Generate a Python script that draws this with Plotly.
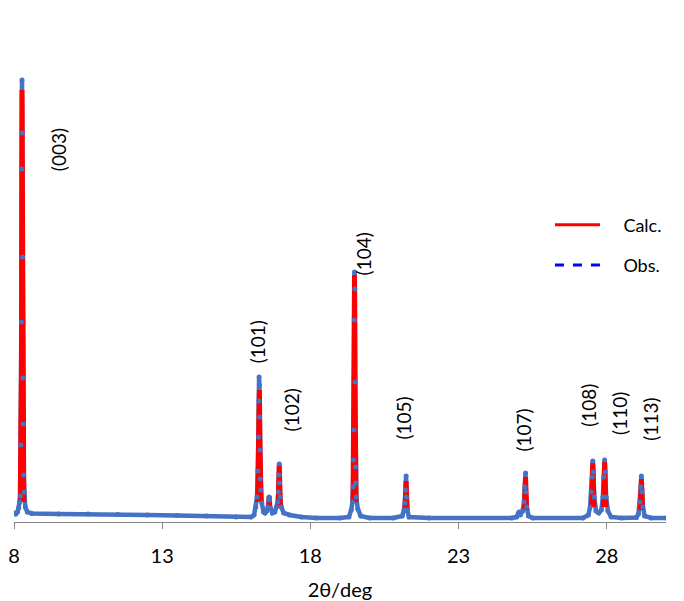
import plotly.graph_objects as go

# ---- Observed pattern (2θ in deg, intensity in arbitrary units) ----
obs_x = [8.00, 8.06, 8.12, 8.16, 8.19, 8.21, 8.23, 8.25, 8.26, 8.27, 8.28, 8.29, 8.30, 8.31, 8.33, 8.35, 8.38, 8.45,
         8.6, 9.5, 10.5, 11.5, 12.5, 13.5, 14.5, 15.5, 16.0,
         16.10, 16.16, 16.20, 16.23, 16.25, 16.26, 16.27, 16.28, 16.29, 16.30, 16.31, 16.33, 16.36, 16.42, 16.47,
         16.53, 16.57, 16.60, 16.61, 16.62, 16.65, 16.72, 16.80, 16.86, 16.90, 16.92, 16.94, 16.95, 16.96, 16.98,
         17.02, 17.10, 17.3, 17.7, 18.2, 19.0,
         19.30, 19.38, 19.42, 19.44, 19.46, 19.47, 19.48, 19.49, 19.50, 19.51, 19.52, 19.53, 19.55, 19.60, 19.70,
         20.0, 20.8, 21.10, 21.16, 21.19, 21.21, 21.23, 21.24, 21.27, 21.33, 22.0, 24.8,
         24.96, 25.01, 25.04, 25.08, 25.16, 25.21, 25.24, 25.26, 25.27, 25.30, 25.36, 25.5,
         27.2, 27.38, 27.44, 27.48, 27.51, 27.53, 27.55, 27.58, 27.64, 27.73, 27.82, 27.87, 27.90, 27.93, 27.95,
         27.98, 28.04, 28.15, 28.5, 29.00, 29.07, 29.12, 29.15, 29.17, 29.19, 29.22, 29.28, 29.5, 30.0]
obs_y = [18, 16, 20, 28, 40, 52, 154, 400, 706, 884, 778, 530, 288, 196, 94, 60, 30, 20,
         17, 16, 16, 15, 14, 13, 12, 10, 10,
         14, 30, 50, 102, 170, 242, 290, 274, 210, 144, 86, 64, 38, 20, 18,
         22, 30, 44, 50, 44, 28, 18, 20, 30, 40, 60, 94, 116, 78, 50,
         30, 18, 14, 10, 8, 8,
         10, 24, 40, 70, 124, 184, 404, 500, 466, 280, 110, 78, 50, 26, 12,
         8, 8, 12, 24, 38, 64, 92, 50, 24, 10, 8, 8,
         10, 16, 20, 14, 22, 40, 70, 98, 60, 30, 12, 8,
         8, 14, 30, 60, 90, 122, 100, 50, 22, 18, 24, 50, 90, 124, 100,
         50, 22, 10, 8, 9, 16, 40, 70, 92, 60, 30, 12, 8, 8]

# ---- Calculated profile (peak regions; background hidden under Obs) ----
calc_x = [8.21, 8.25, 8.27, 8.29, 8.33, None,
          16.22, 16.26, 16.28, 16.30, 16.34, None,
          16.59, 16.61, 16.63, None,
          16.91, 16.95, 16.99, None,
          19.44, 19.47, 19.49, 19.51, 19.54, None,
          21.19, 21.23, 21.27, None,
          25.22, 25.26, 25.30, None,
          27.49, 27.53, 27.57, None,
          27.89, 27.93, 27.97, None,
          29.13, 29.17, 29.21]
calc_y = [40, 300, 864, 300, 40, None,
          40, 150, 264, 150, 40, None,
          24, 52, 24, None,
          30, 114, 30, None,
          40, 250, 494, 250, 40, None,
          24, 82, 24, None,
          24, 90, 24, None,
          30, 118, 30, None,
          30, 120, 30, None,
          24, 86, 24]

# ---- Reflection labels ----
hkl_labels = ["(003)", "(101)", "(102)", "(104)", "(105)", "(107)", "(108)", "(110)", "(113)"]
hkl_x = [9.49, 16.21, 17.36, 19.79, 21.11, 25.16, 27.36, 28.41, 29.45]
hkl_y = [744, 360, 224, 536, 208, 184, 234, 218, 206]

x_ticks = [8, 13, 18, 23, 28]

FONT = "Lato"
OBS_COLOR = "#4472C4"
CALC_COLOR = "#FF0000"
GAP = "\u00a0" * 4

fig = go.Figure()

# Obs line (background & peak body underneath)
fig.add_trace(go.Scatter(x=obs_x, y=obs_y, mode="lines",
                         line=dict(color=OBS_COLOR, width=4.5),
                         showlegend=False, hoverinfo="skip"))
# Calc line
fig.add_trace(go.Scatter(x=calc_x, y=calc_y, mode="lines",
                         line=dict(color=CALC_COLOR, width=5),
                         connectgaps=False, showlegend=False, name="Calc."))
# Obs points on top
fig.add_trace(go.Scatter(x=obs_x, y=obs_y, mode="markers",
                         marker=dict(color=OBS_COLOR, size=5),
                         showlegend=False, name="Obs."))

# Legend entries
fig.add_trace(go.Scatter(x=[None], y=[None], mode="lines", name=GAP + "Calc.",
                         line=dict(color=CALC_COLOR, width=3), legendgroup="a"))
fig.add_trace(go.Scatter(x=[None], y=[None], mode="lines", name=GAP + "Obs.",
                         line=dict(color="#0000FF", width=3, dash="dash"), legendgroup="b"))

for t, xv, yv in zip(hkl_labels, hkl_x, hkl_y):
    fig.add_annotation(x=xv, y=yv, text=t, textangle=-90, showarrow=False,
                       font=dict(family=FONT, size=19, color="#000000"),
                       xanchor="center", yanchor="middle")

fig.update_layout(
    width=684, height=601,
    margin=dict(l=14, r=18, t=22, b=79, autoexpand=False),
    paper_bgcolor="white", plot_bgcolor="white",
    font=dict(family=FONT, color="#000000"),
    legend=dict(x=0.822, y=0.554, xanchor="left", yanchor="middle",
                font=dict(family=FONT, size=18, color="#000000"),
                itemwidth=45, tracegroupgap=14, bgcolor="rgba(0,0,0,0)"),
    xaxis=dict(range=[8, 30], tickvals=x_ticks, ticktext=[str(v) for v in x_ticks],
               automargin=False,
               showgrid=False, zeroline=False, showline=True, linecolor="#868686", linewidth=1,
               ticks="outside", ticklen=6, tickcolor="#868686",
               tickfont=dict(family=FONT, size=20, color="#000000"),
               ticklabelstandoff=10,
               title=dict(text="2θ/deg", font=dict(family=FONT, size=20, color="#000000"), standoff=19)),
    yaxis=dict(range=[0, 1000], visible=False, showgrid=False, zeroline=False, automargin=False),
)

fig.write_html("out.html")
